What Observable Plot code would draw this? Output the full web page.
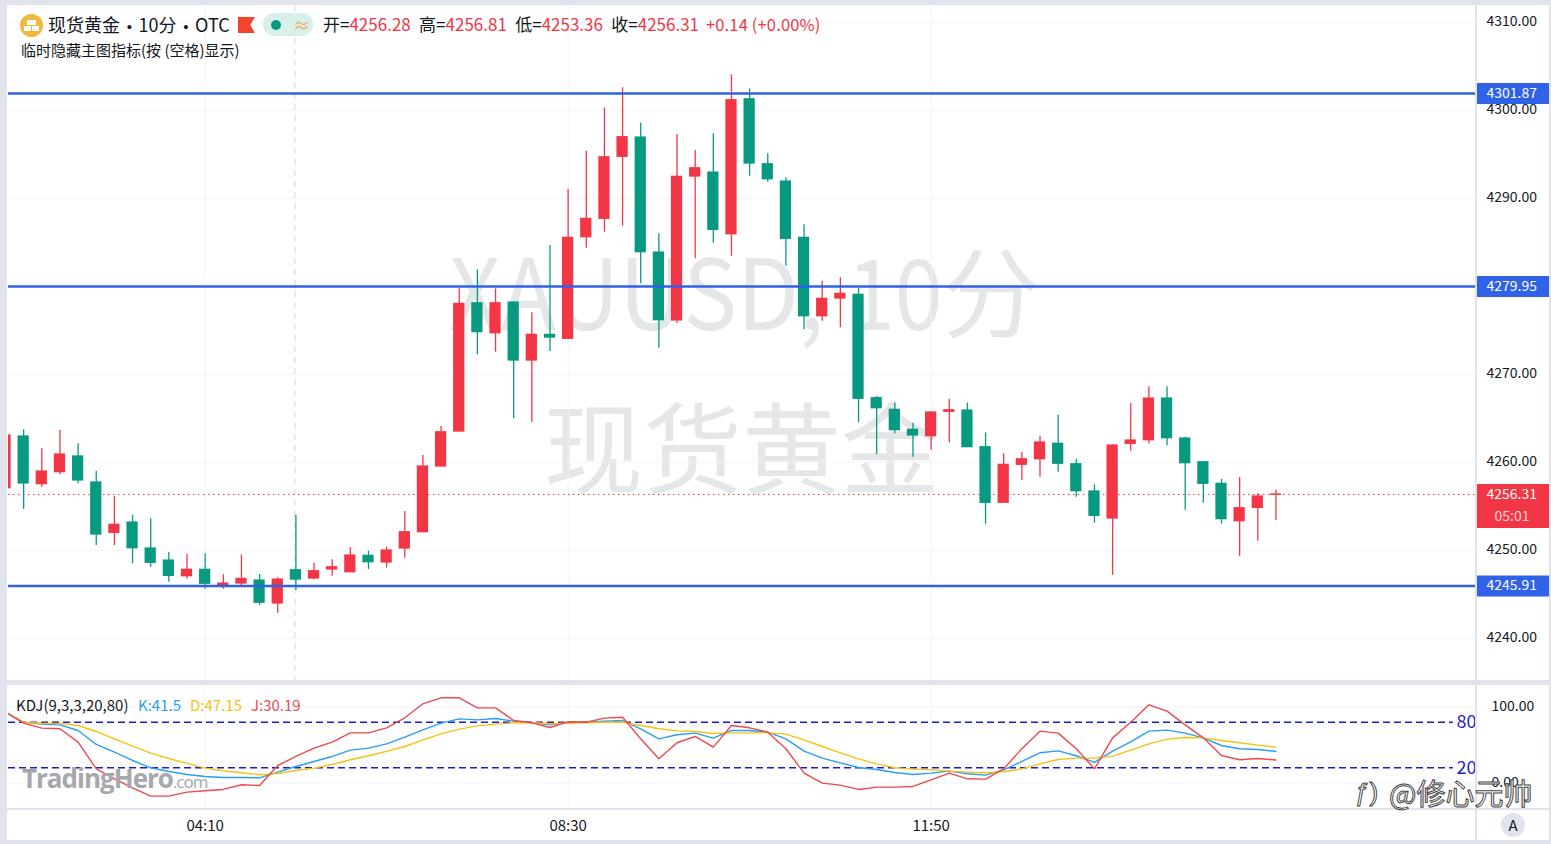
<!DOCTYPE html>
<html><head><meta charset="utf-8">
<script src="https://cdn.jsdelivr.net/npm/d3@7"></script>
<script src="https://cdn.jsdelivr.net/npm/@observablehq/plot@0.6"></script>
<style>
html,body{margin:0;padding:0;width:1551px;height:844px;overflow:hidden;background:#fff;font-family:"Noto Sans CJK SC","Liberation Sans",sans-serif;color:#131722}
.abs{position:absolute;white-space:nowrap}
svg{position:absolute;left:0;background:transparent!important}
.r{color:#f23645}
.dot{font-family:"Liberation Sans";font-size:15px;margin:0 -1px}
</style></head><body>
<div id="wm"></div><div id="charts"></div><div id="over"></div>
<script>
const open=[4257.02,4262.90,4257.48,4258.84,4260.63,4257.67,4251.95,4253.12,4250.17,4248.80,4247.02,4247.75,4245.88,4246.19,4246.53,4243.92,4247.70,4246.76,4247.78,4247.47,4249.34,4248.58,4250.17,4252.02,4259.49,4263.46,4278.04,4274.63,4278.12,4271.53,4274.45,4274.00,4285.54,4287.63,4294.68,4296.87,4283.80,4276.08,4292.44,4292.89,4285.88,4301.22,4293.84,4291.87,4285.47,4276.56,4278.58,4279.00,4267.25,4265.93,4263.66,4262.93,4265.70,4265.85,4261.68,4255.36,4259.68,4260.31,4262.07,4259.75,4256.65,4253.58,4262.07,4262.47,4267.21,4262.67,4259.97,4257.52,4253.27,4254.79,4256.28];
const high=[4263.05,4263.66,4261.50,4263.58,4262.07,4258.95,4256.08,4253.95,4253.54,4249.71,4249.49,4249.56,4247.18,4249.45,4247.21,4246.84,4253.95,4248.50,4248.88,4250.25,4249.86,4250.31,4254.37,4260.74,4264.03,4279.68,4281.84,4279.68,4278.18,4276.95,4284.60,4290.96,4295.31,4300.25,4302.52,4298.50,4285.93,4297.21,4295.39,4297.29,4304.00,4302.41,4295.02,4292.29,4286.95,4280.54,4280.93,4279.75,4267.44,4266.72,4264.41,4265.74,4267.13,4266.72,4263.31,4260.93,4261.08,4262.90,4265.32,4260.31,4257.41,4261.95,4266.65,4268.54,4268.54,4262.82,4260.02,4258.01,4258.24,4256.38,4256.81];
const low=[4256.99,4254.63,4257.13,4258.54,4257.52,4250.51,4250.51,4248.43,4248.04,4246.34,4246.68,4245.54,4245.54,4245.96,4243.69,4242.81,4245.39,4246.61,4247.02,4247.45,4247.78,4247.97,4249.06,4251.95,4259.43,4263.41,4272.18,4272.47,4264.91,4264.52,4272.55,4273.98,4284.29,4286.11,4286.79,4280.25,4272.93,4275.77,4283.09,4284.86,4283.38,4292.47,4291.79,4282.25,4275.02,4276.00,4275.25,4264.45,4260.85,4263.20,4260.54,4261.30,4262.18,4261.66,4252.93,4255.34,4257.90,4258.27,4258.84,4256.00,4253.04,4247.13,4261.22,4262.07,4261.84,4254.52,4255.31,4252.93,4249.29,4251.00,4253.36];
const close=[4263.01,4257.56,4258.92,4260.85,4257.90,4251.76,4252.86,4250.20,4248.54,4247.06,4247.75,4246.16,4246.19,4246.72,4244.00,4246.64,4246.64,4247.59,4248.04,4249.37,4248.61,4249.94,4252.02,4259.49,4263.38,4277.97,4274.75,4278.04,4271.53,4274.45,4274.14,4285.47,4287.63,4294.63,4296.91,4283.84,4276.11,4292.41,4293.38,4286.38,4301.11,4293.92,4292.13,4285.36,4276.56,4278.54,4279.11,4267.18,4266.11,4263.61,4263.01,4265.62,4265.88,4261.68,4255.36,4259.68,4260.31,4262.21,4259.80,4256.68,4253.88,4261.87,4262.44,4267.21,4262.70,4259.86,4257.52,4253.50,4254.75,4256.08,4256.31];
const kLine=[93.2,80,77.4,76.5,69.1,50.7,40.6,29.6,20,15.1,11.2,8.6,7.2,7.2,6.8,14.3,21.7,28.3,34.9,43.2,45.8,51.5,60.3,70,78.7,84.4,83.1,84.9,81.4,79.2,76.5,80,80,81.4,82.2,71.3,58.1,63.4,65.6,59,69.1,69.1,66.9,58.1,41.9,32.7,26.5,20.4,17.8,13.8,11.2,12.9,15.6,12.1,10.3,17.3,28.3,39.7,42.3,35.8,27,41.9,54.2,68.2,69.5,65.6,59.4,49.3,45,44.1,41.5];
const dLine=[93.2,80,78.7,78.3,75.7,67.8,58.1,48.5,39.3,32.2,25.7,19.5,16,13.4,10.8,12.5,16.5,19.5,24.3,30.5,35.8,41.5,48,56.8,64.7,70.8,75.2,77.4,79.2,79.2,77.9,78.7,79.2,80,80,75.7,71.3,68.6,67.8,65.1,66,66,66,64.3,56.8,48,39.7,31.8,25.2,20,18.2,17.3,15.6,14.3,13.4,14.7,18.6,25.2,30.9,32.7,32.7,35.3,43.2,51.5,57.7,59.9,59.4,55.9,52.9,49.8,47.15];
const jLine=[93.2,78.7,72.2,71.3,53.7,18.6,5.5,-6.4,-17.3,-17.3,-12.1,-10.3,-8.5,-2.4,-3.3,23,34.9,45.8,53.7,66,66,72.6,85.8,104.2,112.1,112.1,98.9,98.9,82.2,79.2,73,80.5,80,85.3,86.6,58.1,31.8,52.9,61.2,47.2,75.7,72.6,66.9,45,12.9,-0.2,-2.8,-8.5,-5.5,-5.5,-4.6,4.2,12.9,5.5,5,18.6,45,68.2,65.6,45,18.6,59.4,80,102.9,94.5,76.5,59.4,36.2,30.5,32.2,30.19];
const priceTicks=[4240,4250,4260,4270,4280,4290,4300,4310];
const levels=[4301.87,4279.95,4245.91];
const lastPrice=4256.31;
const timeIdx=[11,31,51];
const timeLabels=["04:10","08:30","11:50"];
const kdjTicks=[0,100];
const kdjBands=[80,20];
const countdown="05:01";

const RED="#f23645",GREEN="#089981",BLUE="#2f62e6",GRID="#f0f3fa";
const xDom=[0.165,81.05], tagEnd=xDom[1]+4.05, bandEnd=79.78;
const font='"Noto Sans CJK SC","Liberation Sans",sans-serif';
const candles=open.map((o,i)=>({i,o,h:high[i],l:low[i],c:close[i],col:close[i]>=o?RED:GREEN}));
const series=[["K",kLine,"#2a9df4"],["D",dLine,"#f5c211"],["J",jLine,"#ec4a4f"]];
const base={width:1551,marginLeft:8,marginRight:75,style:{fontSize:"14px",fontFamily:font,color:"#131722",background:"transparent"}};
const pf=d=>d.toFixed(2);

const main=Plot.plot({...base,height:680,marginTop:5,marginBottom:0,
  x:{domain:xDom,axis:null},
  y:{domain:[4235.17,4311.875]},
  marks:[
    Plot.ruleY(priceTicks,{stroke:GRID}),
    Plot.ruleX(timeIdx,{stroke:GRID}),
    Plot.ruleX([16],{stroke:"#d4d6dc",strokeDasharray:"6,5",dx:-1}),
    Plot.ruleY([lastPrice],{stroke:RED,strokeDasharray:"1.5,3.5",strokeWidth:1}),
    Plot.ruleX(candles,{x:"i",y1:"l",y2:"h",stroke:"col",strokeWidth:1.3,clip:true}),
    Plot.rect(candles,{x1:d=>d.i-0.31,x2:d=>d.i+0.31,y1:d=>Math.min(d.o,d.c),y2:d=>Math.max(d.o,d.c),fill:"col",insetTop:-0.6,insetBottom:-0.6,clip:true}),
    Plot.ruleY(levels,{stroke:BLUE,strokeWidth:2.4}),
    Plot.axisY(priceTicks,{anchor:"right",tickSize:0,tickPadding:10,tickFormat:pf,label:null,fontSize:14}),
    Plot.ruleY(levels,{x1:xDom[1],x2:tagEnd,stroke:BLUE,strokeWidth:21}),
    Plot.text(levels,{x:xDom[1],y:d=>d,text:pf,fill:"#fff",textAnchor:"start",dx:10,fontSize:14}),
    Plot.ruleY([lastPrice],{x1:xDom[1],x2:tagEnd,stroke:RED,strokeWidth:44,dy:11.5}),
    Plot.text([lastPrice],{x:xDom[1],y:d=>d,text:pf,fill:"#fff",textAnchor:"start",dx:10,fontSize:14}),
    Plot.text([lastPrice],{x:xDom[1],y:d=>d,text:()=>countdown,fill:"#ffd3d6",textAnchor:"start",dx:18,dy:22.5,fontSize:14})
  ]});
main.style.top="0px";

const kdj=Plot.plot({...base,height:159,marginTop:0,marginBottom:36,
  x:{domain:xDom,axis:null},
  y:{domain:[-33.6,128.3]},
  marks:[
    Plot.ruleY(kdjTicks,{stroke:GRID}),
    Plot.ruleX(timeIdx,{stroke:GRID}),
    Plot.ruleY(kdjBands,{x1:xDom[0],x2:bandEnd,stroke:"#1d1dc8",strokeWidth:1.4,strokeDasharray:"7,4"}),
    ...series.map(([n,vals,col])=>Plot.line(vals,{x:(d,i)=>i,y:d=>d,stroke:col,strokeWidth:1.4,clip:true})),
    Plot.text(kdjBands,{x:xDom[1],y:d=>d,text:d=>String(d),fill:"#1d1dc8",textAnchor:"end",fontSize:18}),
    Plot.axisY(kdjTicks,{anchor:"right",tickSize:0,tickPadding:15,tickFormat:pf,label:null,fontSize:14}),
    Plot.axisX(timeIdx,{anchor:"bottom",tickSize:0,tickPadding:12,tickFormat:(d)=>timeLabels[timeIdx.indexOf(d)],label:null,fontSize:15})
  ]});
kdj.style.top="685px";
document.getElementById("charts").append(main,kdj);

function add(parent,html,css){const e=document.createElement("div");e.className="abs";e.style.cssText=css;e.innerHTML=html;parent.append(e);return e;}
const wm=document.getElementById("wm"),ov=document.getElementById("over");
const WMC="#e5e6e8", WMF='font:400 98px/1.3 "Noto Sans CJK SC";color:'+WMC+';transform-origin:left top;';
add(wm,"XAUUSD,",'left:449px;top:224px;'+WMF+'transform:scaleX(.92)');
add(wm,"10",'left:847px;top:224px;'+WMF+'transform:scaleX(.88)');
add(wm,"分",'left:942px;top:224px;'+WMF);
add(wm,"现货黄金",'left:544px;top:379px;font:400 99px/1.3 "Noto Sans CJK SC";color:'+WMC);

// frame
const F="#e0e3eb";
[["left:0;top:0;width:1551px;height:5px"],["left:0;top:0;width:7px;height:844px"],["left:0;top:680px;width:1551px;height:5px"],["left:0;top:840px;width:1551px;height:4px"],["left:1549px;top:0;width:2px;height:844px"],["left:7px;top:808px;width:1542px;height:1.5px"],["left:1475px;top:5px;width:1.5px;height:835px"]].forEach(([c])=>add(ov,"",c+";background:"+F));

// header
add(ov,"",'left:20px;top:14px;width:23px;height:23px;border-radius:50%;background:#efb93f');
add(ov,"",'left:27px;top:20px;width:9px;height:5px;background:#fff');
add(ov,"",'left:24px;top:26px;width:7px;height:5px;background:#fff');
add(ov,"",'left:32px;top:26px;width:7px;height:5px;background:#fff');
add(ov,'现货黄金 <span class="dot">•</span> 10分 <span class="dot">•</span> OTC','left:48px;top:11px;font-size:18px;line-height:26px;color:#131722;word-spacing:3.6px');
add(ov,"",'left:238px;top:17px;width:17px;height:16px;background:#f4442e;clip-path:polygon(0 0,100% 0,72% 50%,100% 100%,0 100%)');
add(ov,"",'left:263px;top:13px;width:50px;height:23px;border-radius:11px;background:#d9f0ea');
add(ov,"",'left:271px;top:20px;width:10px;height:10px;border-radius:50%;background:#089981');
add(ov,"≈",'left:293px;top:12px;font-size:17px;line-height:26px;color:#f2a65a');
add(ov,'开=<span class="r">4256.28</span> 高=<span class="r">4256.81</span> 低=<span class="r">4253.36</span> 收=<span class="r">4256.31</span>','left:323px;top:11px;font-size:17px;line-height:26px;word-spacing:4.5px');
add(ov,'+0.14 (+0.00%)','left:706px;top:11px;font-size:16.5px;line-height:26px;color:#f23645;letter-spacing:.15px');
add(ov,"临时隐藏主图指标(按 (空格)显示)",'left:21px;top:40px;font-size:15px;line-height:20px;color:#131722');

// KDJ legend
add(ov,"KDJ(9,3,3,20,80)",'left:16px;top:695px;font-size:15px;line-height:20px');
add(ov,"K:41.5",'left:138px;top:695px;font-size:15px;line-height:20px;color:#2a9df4');
add(ov,"D:47.15",'left:190px;top:695px;font-size:15px;line-height:20px;color:#f5c211');
add(ov,"J:30.19",'left:251px;top:695px;font-size:15px;line-height:20px;color:#ec4a4f');

// watermarks
add(ov,'TradingHero<span style="font-size:17px;font-weight:400">.com</span>','left:22px;top:762px;font:700 26px/32px "Open Sans";letter-spacing:-1px;color:#a6a8ac');
add(ov,"ƒ)",'left:1355px;top:775px;font:400 26px/34px "Liberation Sans";color:#fff;-webkit-text-stroke:1px #444');
add(ov,"@修心元帅",'left:1389px;top:772px;font:400 29px/40px "Noto Sans CJK SC";color:#fff;-webkit-text-stroke:1px #444');
add(ov,"A",'left:1501px;top:813px;width:24px;height:24px;border-radius:50%;background:#e0e3eb;text-align:center;font-size:15px;line-height:24px');
</script>
</body></html>
